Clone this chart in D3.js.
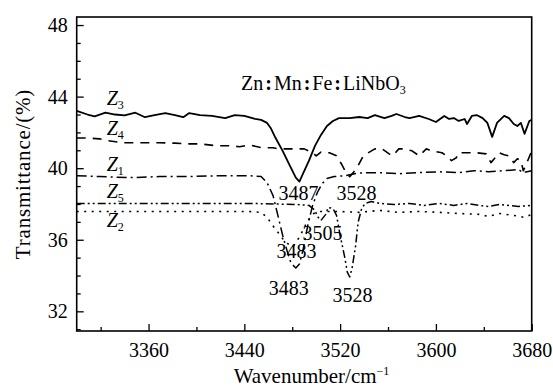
<!DOCTYPE html>
<html>
<head>
<meta charset="utf-8">
<script src="https://cdn.jsdelivr.net/npm/d3@7/dist/d3.min.js"></script>
<style>
  body { margin: 0; background: #fff; }
  svg text { font-family: "Liberation Serif", "Times New Roman", serif; fill: #000; }
</style>
</head>
<body>
<svg id="chart" width="553" height="389"></svg>
<script>
// Spectra: [wavenumber, transmittance]
const z3 = [[3300,43.2],[3309,43.0],[3315,42.9],[3324,43.1],[3332,43.0],[3340,42.95],[3349,43.1],[3357,42.85],
  [3365,42.97],[3374,43.08],[3382,42.97],[3389,42.85],[3394,43.08],[3403,42.97],[3413,42.92],[3424,42.8],
  [3432,42.97],[3440,42.92],[3449,42.75],[3454,42.7],[3459,42.53],[3462,42.25],[3466,41.7],[3472,40.97],
  [3478,40.14],[3483,39.47],[3486,39.25],[3489,39.69],[3494,40.42],[3499,41.25],[3504,41.86],[3509,42.36],
  [3514,42.64],[3519,42.8],[3528,42.8],[3536,42.86],[3543,42.8],[3549,42.97],[3557,42.8],[3563,42.92],
  [3567,43.03],[3574,42.86],[3578,42.8],[3586,42.92],[3594,42.75],[3600,42.58],[3607,42.92],[3611,42.75],
  [3615,42.8],[3619,42.64],[3624,42.75],[3626,42.47],[3630,42.92],[3634,42.97],[3639,42.8],[3643,42.53],
  [3647,41.75],[3651,42.53],[3657,42.92],[3661,42.8],[3665,42.47],[3668,42.36],[3671,42.53],[3674,41.92],
  [3678,42.64],[3680,42.7]];
const z4 = [[3300,41.69],[3309,41.69],[3319,41.64],[3325,41.55],[3339,41.42],[3350,41.42],[3359,41.42],
  [3369,41.42],[3382,41.4],[3392,41.36],[3403,41.36],[3417,41.25],[3428,41.25],[3436,41.2],[3444,41.3],
  [3455,41.14],[3464,41.14],[3469,41.08],[3484,41.08],[3490,41.08],[3497,40.86],[3500,40.69],[3504,40.9],
  [3511,40.86],[3517,40.69],[3521,40.25],[3525,39.75],[3528,39.53],[3531,39.75],[3535,40.14],[3539,40.64],
  [3542,40.8],[3549,41.08],[3555,41.08],[3561,40.8],[3564,40.69],[3569,41.08],[3574,41.08],[3580,40.97],
  [3586,40.69],[3592,41.08],[3596,40.97],[3605,40.86],[3609,40.69],[3613,40.42],[3617,40.58],[3619,40.86],
  [3628,40.86],[3634,40.86],[3642,40.8],[3646,40.31],[3653,40.86],[3657,40.75],[3661,40.69],[3665,40.31],
  [3668,40.53],[3671,40.42],[3673,39.86],[3675,40.14],[3680,40.97]];
const z1 = [[3300,39.58],[3319,39.53],[3344,39.47],[3369,39.53],[3394,39.53],[3419,39.58],[3444,39.58],
  [3454,39.53],[3459,39.19],[3464,38.47],[3468,37.36],[3472,36.25],[3476,35.31],[3479,34.69],[3483,34.42],
  [3486,34.64],[3489,35.42],[3493,36.8],[3497,37.92],[3501,38.64],[3505,39.14],[3509,39.42],[3515,39.53],
  [3524,39.58],[3532,39.69],[3540,39.75],[3553,39.75],[3569,39.69],[3586,39.75],[3603,39.8],[3619,39.75],
  [3632,39.86],[3644,39.8],[3657,39.86],[3669,39.92],[3673,39.75],[3680,39.86]];
const z5 = [[3300,38.03],[3361,38.03],[3403,38.03],[3444,38.03],[3484,37.97],[3494,37.92],[3499,37.64],
  [3501,37.31],[3504,37.08],[3508,37.42],[3510,37.8],[3514,37.75],[3517,37.36],[3520,36.25],[3524,34.97],
  [3526,34.19],[3528,33.92],[3530,34.42],[3533,35.69],[3535,36.97],[3538,37.75],[3541,38.03],[3546,38.14],
  [3553,38.03],[3565,37.97],[3578,38.03],[3590,37.92],[3603,38.03],[3615,37.92],[3626,38.03],[3636,37.92],
  [3644,37.86],[3653,37.97],[3661,37.92],[3669,37.86],[3680,37.92]];
const z2 = [[3300,37.58],[3361,37.58],[3403,37.58],[3444,37.58],[3454,37.53],[3459,37.25],[3463,36.86],
  [3468,36.42],[3473,35.97],[3478,35.69],[3481,35.64],[3484,35.92],[3489,36.53],[3493,37.08],[3498,37.47],
  [3503,37.58],[3519,37.58],[3536,37.53],[3553,37.64],[3569,37.53],[3586,37.58],[3603,37.53],[3619,37.47],
  [3636,37.42],[3644,37.3],[3653,37.47],[3665,37.36],[3674,37.25],[3680,37.42]];

const xTicks = [3360, 3440, 3520, 3600, 3680];
const xMinor = [3320, 3400, 3480, 3560, 3640];
const yTicks = [32, 36, 40, 44, 48];
const yMinor = d3.range(31, 49).filter(v => v % 4 !== 0);

// series id, data, label position [wavenumber, value]
const seriesNames = ["3", "4", "1", "5", "2"];
const seriesData = [z3, z4, z1, z5, z2];
const seriesLabelAt = [[3325, 43.54], [3325, 41.86], [3325, 39.85], [3325, 38.35], [3325, 36.73]];

// peak annotations: text, wavenumber, value (baseline)
const peakText = ["3487", "3528", "3505", "3483", "3483", "3528"];
const peakAt = [[3485.3, 38.23], [3533.6, 38.23], [3505.3, 36.0], [3483.6, 35.0], [3477, 32.93], [3530.3, 32.54]];

const dashes = [null, "9,7", "10,4,2,4", "8,3,2,3,2,3", "2,5.5"];
const widths = [1.8, 1.6, 1.5, 1.5, 1.6];

const W = 553, H = 389;
const margin = { top: 17, right: 21.3, bottom: 58, left: 76.7 };
const FS = 20;

const svg = d3.select("#chart");

const x = d3.scaleLinear().domain([3300, 3680]).range([margin.left, W - margin.right]);
const y = d3.scaleLinear().domain([30.9, 48.45]).range([H - margin.bottom, margin.top]);

// axes with inward ticks
svg.append("g")
  .attr("transform", `translate(0,${H - margin.bottom})`)
  .call(d3.axisBottom(x).tickValues(xTicks).tickSize(-7).tickPadding(12).tickFormat(d3.format("d")));
svg.append("g")
  .attr("transform", `translate(0,${H - margin.bottom})`)
  .call(d3.axisBottom(x).tickValues(xMinor).tickSize(-4).tickFormat(""));
svg.append("g")
  .attr("transform", `translate(${margin.left},0)`)
  .call(d3.axisLeft(y).tickValues(yTicks).tickSize(-7).tickPadding(9));
svg.append("g")
  .attr("transform", `translate(${margin.left},0)`)
  .call(d3.axisLeft(y).tickValues(yMinor).tickSize(-4).tickFormat(""));

svg.selectAll(".domain").remove();
svg.selectAll(".tick line").attr("stroke", "#000").attr("stroke-width", 1.3);
svg.selectAll(".tick text").style("font-size", FS + "px").attr("fill", "#000");

// frame
svg.append("rect")
  .attr("x", margin.left).attr("y", margin.top)
  .attr("width", W - margin.left - margin.right)
  .attr("height", H - margin.top - margin.bottom)
  .attr("fill", "none").attr("stroke", "#000").attr("stroke-width", 1.6);

// curves
const line = d3.line().x(d => x(d[0])).y(d => y(d[1]));
svg.append("g")
  .selectAll("path")
  .data(seriesData)
  .join("path")
  .attr("d", line)
  .attr("fill", "none")
  .attr("stroke", "#000")
  .attr("stroke-width", (d, i) => widths[i])
  .attr("stroke-dasharray", (d, i) => dashes[i])
  .attr("stroke-linejoin", "round");

// series labels Z_n
svg.append("g")
  .selectAll("text")
  .data(seriesNames)
  .join("text")
  .attr("x", (d, i) => x(seriesLabelAt[i][0]))
  .attr("y", (d, i) => y(seriesLabelAt[i][1]))
  .style("font-size", FS + "px")
  .each(function (d) {
    const t = d3.select(this);
    t.append("tspan").style("font-style", "italic").text("Z");
    t.append("tspan").attr("dy", 4).style("font-size", "12px").text(d);
  });

// peak labels
svg.append("g")
  .selectAll("text")
  .data(peakText)
  .join("text")
  .attr("x", (d, i) => x(peakAt[i][0]))
  .attr("y", (d, i) => y(peakAt[i][1]))
  .attr("text-anchor", "middle")
  .style("font-size", FS + "px")
  .text(d => d);

// sample title, colons get a little room on both sides
const title = svg.append("text")
  .attr("x", 241).attr("y", 90)
  .style("font-size", FS + "px");
["Zn", ":", "Mn", ":", "Fe", ":", "LiNbO"].forEach((s, i) => {
  title.append("tspan").attr("dx", i > 0 ? 2 : 0).style("font-weight", s === ":" ? "bold" : null).text(s);
});
title.append("tspan").attr("dy", 4).style("font-size", "12px").text("3");

// axis titles
const xt = svg.append("text")
  .attr("x", 311.5)
  .attr("y", 383)
  .attr("text-anchor", "middle")
  .style("font-size", "21px");
xt.append("tspan").text("Wavenumber/cm");
xt.append("tspan").attr("dy", -8).style("font-size", "12px").text("\u22121");

svg.append("text")
  .attr("transform", `translate(30,${(margin.top + H - margin.bottom) / 2}) rotate(-90)`)
  .attr("text-anchor", "middle")
  .style("font-size", "21px")
  .style("letter-spacing", "0.8px")
  .text("Transmittance/(%)");
</script>
</body>
</html>
